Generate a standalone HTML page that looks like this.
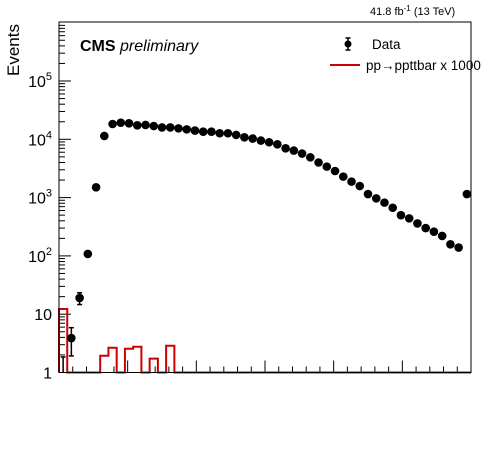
<!DOCTYPE html>
<html><head><meta charset="utf-8"><style>
body{margin:0;background:#fff;}
svg{display:block;font-family:"Liberation Sans",sans-serif;}
</style></head><body>
<svg id="chart" width="496" height="472" viewBox="0 0 496 472">
<defs><clipPath id="pc"><rect x="59" y="22" width="412" height="350.5"/></clipPath></defs>
<rect width="496" height="472" fill="#fff"/>
<g id="ticks"></g>
<g id="signal"></g>
<g id="data" clip-path="url(#pc)"></g>
<rect x="59" y="22" width="412" height="350.5" fill="none" stroke="#000" stroke-width="1"/>
<g id="ylabels"></g>
<text x="19" y="50" font-size="17" text-anchor="middle" transform="rotate(-90 19 50)">Events</text>
<text x="80" y="51" font-size="16"><tspan font-weight="bold">CMS</tspan> <tspan font-style="italic">preliminary</tspan></text>
<text x="370" y="15" font-size="11">41.8 fb<tspan dy="-4" font-size="8">-1</tspan><tspan dy="4"> (13 TeV)</tspan></text>
<g>
<g>
<line x1="348" y1="38" x2="348" y2="50" stroke="#000" stroke-width="1.5"/>
<line x1="345.5" y1="38" x2="350.5" y2="38" stroke="#000" stroke-width="1.5"/>
<line x1="345.5" y1="50" x2="350.5" y2="50" stroke="#000" stroke-width="1.5"/>
<circle cx="348" cy="44" r="3.5" fill="#000"/>
<text x="372" y="49" font-size="13.5">Data</text>
</g>
<g>
<line x1="330" y1="65" x2="360" y2="65" stroke="#cc0000" stroke-width="2"/>
<text x="366" y="70" font-size="13.5">pp→ppttbar x 1000</text>
</g>
</g>
</svg>
<script>
const dataValues=[0.9,3.9,19,108,1500,11400,18300,19300,18800,17400,17600,16900,16000,16000,15400,14800,14100,13500,13500,12700,12700,11900,10800,10300,9500,8900,8200,7000,6400,5700,4900,4000,3400,2860,2290,1880,1580,1150,970,820,670,500,440,360,300,260,220,158,139,1150];
const signalValues=[12.3,0,0,0,0,1.94,2.66,0,2.56,2.77,0,1.73,0,2.88,0,0,0,0,0,0,0,0,0,0,0,0,0,0,0,0,0,0,0,0,0,0,0,0,0,0,0,0,0,0,0,0,0,0,0,0];
const yTickExps=[0,1,2,3,4,5];
const yTickLabels=["1","10","10","10","10","10"];
const NS="http://www.w3.org/2000/svg";
const X0=59,X1=471,Y0=372.5,DEC=58.3,NB=dataValues.length;
const bw=(X1-X0)/NB;
function xs(i){return X0+i*bw;}
function ys(v){return v<=1?Y0-DEC*Math.log10(Math.max(v,0.01)):Math.max(22,Y0-DEC*Math.log10(v));}
function ysh(v){return v<=1?Y0:ys(v);}
function mk(tag,attrs,parent){const e=document.createElementNS(NS,tag);for(const k in attrs)e.setAttribute(k,attrs[k]);parent.appendChild(e);return e;}
const tg=document.getElementById('ticks');
for(let d=0;d<6;d++){for(let m=1;m<10;m++){const y=Y0-DEC*(d+Math.log10(m));const L=m===1?12:6;
const t=mk('line',{x1:X0,x2:X0+L,y1:y,y2:y,stroke:'#000','stroke-width':1},tg);

}}
for(let j=0;j<=30;j++){const x=X0+j*(X1-X0)/30;const L=j%5===0?12:6;
const t=mk('line',{x1:x,x2:x,y1:Y0,y2:Y0-L,stroke:'#000','stroke-width':1},tg);

}
const yl=document.getElementById('ylabels');
yTickExps.forEach((e,i)=>{const y=Y0-DEC*e;
const t=mk('text',{x:52,y:y+6,'font-size':16,'text-anchor':'end'},yl);


t.textContent=yTickLabels[i];
if(e>=2){const s=mk('tspan',{dy:-7,'font-size':11},t);s.textContent=String(e);}});
let p='M'+X0+' '+Y0;
signalValues.forEach((v,i)=>{const y=ysh(v);p+=' L'+xs(i)+' '+y+' L'+xs(i+1)+' '+y;});
p+=' L'+X1+' '+Y0;
const sp=mk('path',{d:p,fill:'none',stroke:'#cc0000','stroke-width':2},document.getElementById('signal'));


const dg=document.getElementById('data');
dataValues.forEach((v,i)=>{const x=xs(i)+bw/2;const e=Math.sqrt(v);
const g=mk('g',{},dg);


const yh=ys(v+e),yl2=v-e>0?ys(v-e):Y0+20;
if(v<30){mk('line',{x1:x,x2:x,y1:yh,y2:yl2,stroke:'#000','stroke-width':1.5},g);
mk('line',{x1:x-2.5,x2:x+2.5,y1:yh,y2:yh,stroke:'#000','stroke-width':1.5},g);
mk('line',{x1:x-2.5,x2:x+2.5,y1:yl2,y2:yl2,stroke:'#000','stroke-width':1.5},g);}
const cy=v<1?Y0+20:ys(v);
mk('line',{x1:x-4,x2:x+4,y1:cy,y2:cy,stroke:'#000','stroke-width':1.5},g);
mk('circle',{cx:x,cy:cy,r:4.3,fill:'#000'},g);});
</script>
</body></html>
